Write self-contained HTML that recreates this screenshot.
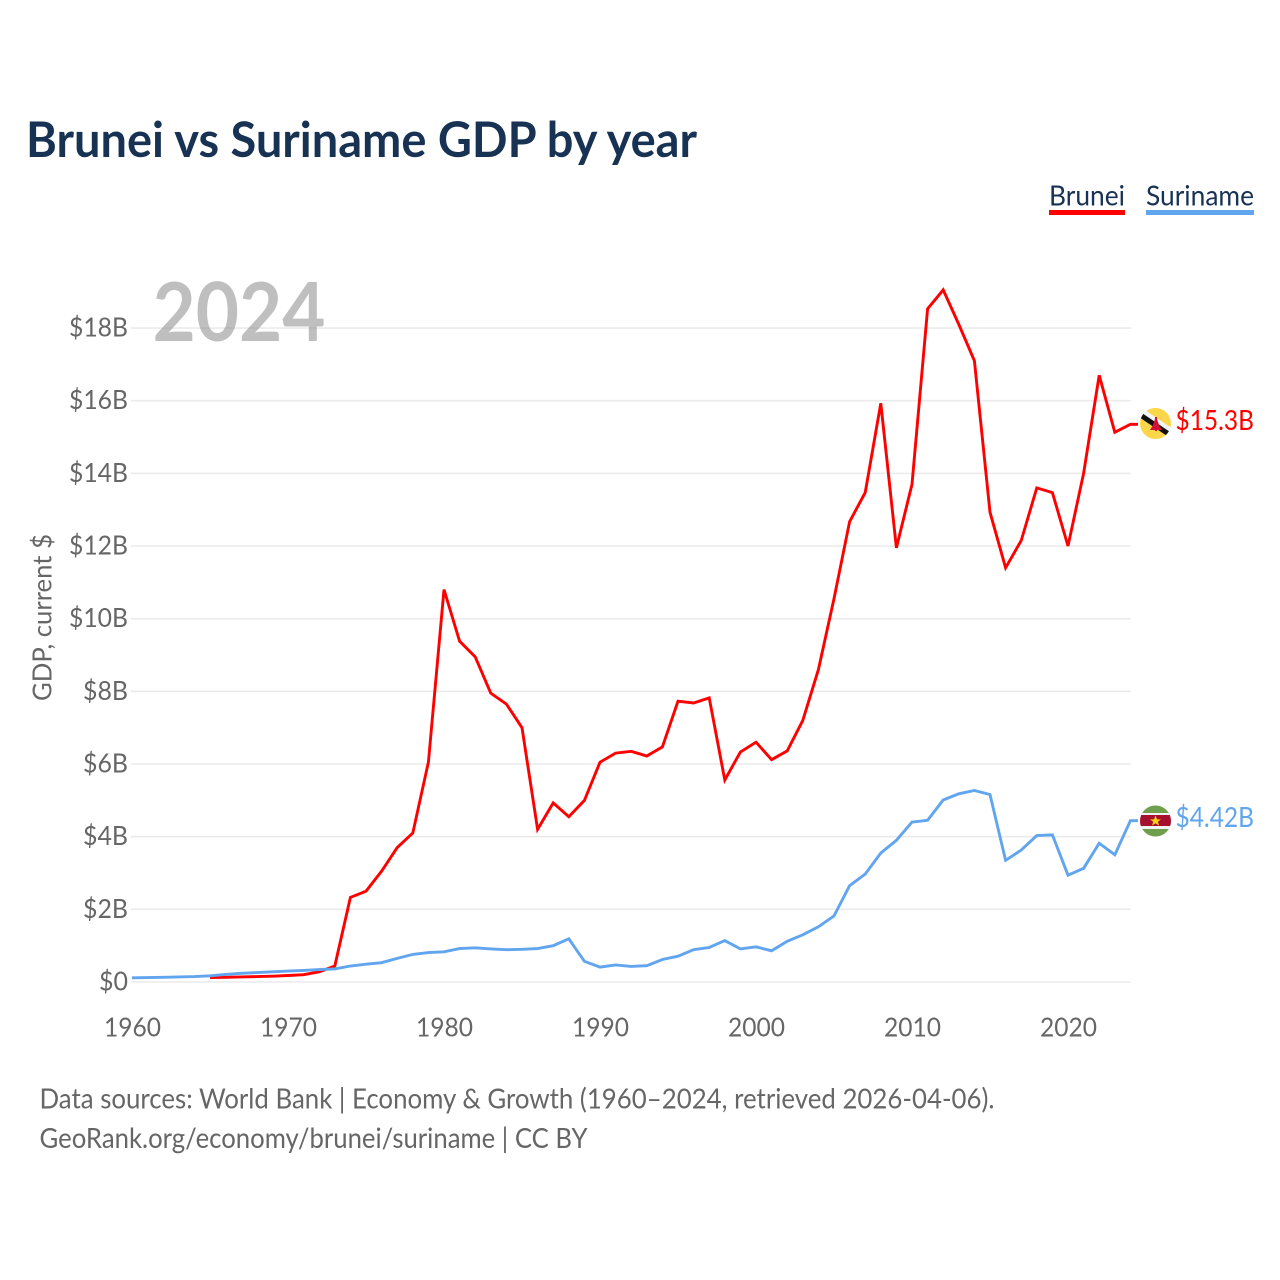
<!DOCTYPE html>
<html lang="en">
<head>
<meta charset="utf-8">
<title>Brunei vs Suriname GDP by year</title>
<style>
html,body{margin:0;padding:0;background:#fff;}
svg{display:block;font-family:"Lato","Carlito","Liberation Sans",sans-serif;}
</style>
</head>
<body>
<svg id="chart" width="1280" height="1280" viewBox="0 0 1280 1280" xmlns="http://www.w3.org/2000/svg">
  <defs>
    <clipPath id="clip-bn"><circle cx="1155.5" cy="423.5" r="15.5"/></clipPath>
    <clipPath id="clip-sr"><circle cx="1155.5" cy="821" r="15.5"/></clipPath>
  </defs>
  <rect width="1280" height="1280" fill="#fff"/>
  <text x="26" y="157" font-size="48.5" font-weight="700" fill="#173253" textLength="671" lengthAdjust="spacingAndGlyphs">Brunei vs Suriname GDP by year</text>

  <g>
    <text x="1049" y="205.5" font-size="28" fill="#173253" textLength="76" lengthAdjust="spacingAndGlyphs">Brunei</text>
    <rect x="1049" y="210" width="76" height="5" fill="#ff0000"/>
    <text x="1146" y="205.5" font-size="28" fill="#173253" textLength="108" lengthAdjust="spacingAndGlyphs">Suriname</text>
    <rect x="1146" y="210" width="108" height="5" fill="#60a5ee"/>
  </g>

  <g id="grid"></g>
  <g id="yticks"></g>
  <g id="xticks"></g>

  <text x="152.5" y="341" font-size="81" font-weight="700" fill="#8a8a8a" fill-opacity="0.55" textLength="173" lengthAdjust="spacingAndGlyphs">2024</text>

  <text transform="translate(51.5,701) rotate(-90)" font-size="26" fill="#666" textLength="167" lengthAdjust="spacingAndGlyphs">GDP, current $</text>

  <g id="series"></g>

  <g clip-path="url(#clip-bn)">
    <rect x="1140" y="408" width="32" height="32" fill="#fcd64a"/>
    <polygon points="1136,414 1142,408 1176,431 1172,438" fill="#f4f4f4"/>
    <polygon points="1136,415 1139,411 1176,436 1173,440" fill="#111"/>
    <path d="M1150 430 L1153 425 L1155 419 L1157 419 L1159 425 L1162 430 Z" fill="#d21034"/>
    <rect x="1155" y="417" width="2" height="14" fill="#d21034"/>
  </g>
  <g clip-path="url(#clip-sr)">
    <rect x="1140" y="805" width="32" height="32" fill="#6f9f4c"/>
    <rect x="1140" y="813" width="32" height="16" fill="#f2f2f2"/>
    <rect x="1140" y="815" width="32" height="11" fill="#a5102e"/>
    <polygon points="1155.5,815.5 1157,819.4 1161,819.4 1157.8,821.8 1159,825.6 1155.5,823.3 1152,825.6 1153.2,821.8 1150,819.4 1154,819.4" fill="#fcd116"/>
  </g>

  <text x="1175.5" y="430" font-size="28" fill="#ff0000" textLength="78.5" lengthAdjust="spacingAndGlyphs">$15.3B</text>
  <text x="1175.5" y="827" font-size="28" fill="#60a5ee" textLength="78.5" lengthAdjust="spacingAndGlyphs">$4.42B</text>

  <text x="39.5" y="1108.5" font-size="28" fill="#666" textLength="955" lengthAdjust="spacingAndGlyphs">Data sources: World Bank | Economy &amp; Growth (1960–2024, retrieved 2026-04-06).</text>
  <text x="39.5" y="1148" font-size="28" fill="#666" textLength="548" lengthAdjust="spacingAndGlyphs">GeoRank.org/economy/brunei/suriname | CC BY</text>
</svg>
<script>
const yTickValues = [0, 2, 4, 6, 8, 10, 12, 14, 16, 18];
const xTickYears = [1960, 1970, 1980, 1990, 2000, 2010, 2020];
const bruneiStartYear = 1965;
const surinameStartYear = 1960;
const bruneiGdp = [0.12,0.13,0.14,0.15,0.16,0.18,0.2,0.28,0.44,2.33,2.5,3.05,3.7,4.1,6.05,10.8,9.38,8.95,7.95,7.65,7.0,4.2,4.93,4.55,5.0,6.05,6.3,6.35,6.22,6.47,7.73,7.68,7.82,5.56,6.33,6.6,6.12,6.36,7.2,8.6,10.55,12.67,13.47,15.93,11.95,13.7,18.53,19.05,18.1,17.1,12.93,11.4,12.15,13.6,13.47,12.0,14.0,16.7,15.13,15.35];
const surinameGdp = [0.115,0.12,0.13,0.14,0.15,0.17,0.21,0.24,0.26,0.28,0.3,0.32,0.34,0.36,0.44,0.49,0.53,0.65,0.76,0.81,0.83,0.92,0.94,0.91,0.89,0.9,0.92,1.0,1.19,0.57,0.41,0.47,0.43,0.45,0.62,0.71,0.89,0.95,1.14,0.91,0.97,0.86,1.12,1.3,1.52,1.82,2.65,2.97,3.55,3.9,4.4,4.45,5.01,5.18,5.27,5.16,3.35,3.63,4.03,4.05,2.94,3.13,3.82,3.5,4.44];

const NS = 'http://www.w3.org/2000/svg';
function xScale(year) { return 132 + (year - 1960) * 15.6; }
function yScale(v) { return 982 - v * 36.33; }
function make(tag, attrs, parent) {
  const el = document.createElementNS(NS, tag);
  for (const k in attrs) el.setAttribute(k, attrs[k]);
  parent.appendChild(el);
  return el;
}
const grid = document.getElementById('grid');
const yticks = document.getElementById('yticks');
const xticks = document.getElementById('xticks');
const series = document.getElementById('series');

yTickValues.forEach(function (v) {
  const line = make('line', {x1: 131, x2: 1131, y1: yScale(v), y2: yScale(v), stroke: '#ebebeb', 'stroke-width': 1.6}, grid);
  
  
  const label = v === 0 ? '$0' : '$' + v + 'B';
  const digits = String(v).length;
  const w = 15 + 14 * digits + (v === 0 ? 0 : 16);
  const t = make('text', {x: 128 - w, y: yScale(v) + 8.5, 'font-size': 26, fill: '#666', textLength: w, lengthAdjust: 'spacingAndGlyphs'}, yticks);
  t.textContent = label;
  
  
});

xTickYears.forEach(function (yr) {
  const t = make('text', {x: xScale(yr) - 28, y: 1036.5, 'font-size': 26, fill: '#666', textLength: 57, lengthAdjust: 'spacingAndGlyphs'}, xticks);
  t.textContent = String(yr);
  
  
});

function linePath(values, startYear) {
  let d = '';
  values.forEach(function (v, i) {
    d += (i ? 'L' : 'M') + xScale(startYear + i).toFixed(1) + ' ' + yScale(v).toFixed(1) + ' ';
  });
  const last = yScale(values[values.length - 1]);
  return d + 'L1138 ' + last.toFixed(1);
}
const bruneiLine = make('path', {d: linePath(bruneiGdp, bruneiStartYear), fill: 'none', stroke: '#ff0000', 'stroke-width': 2.9, 'stroke-linejoin': 'miter'}, series);


const surinameLine = make('path', {d: linePath(surinameGdp, surinameStartYear), fill: 'none', stroke: '#60a5ee', 'stroke-width': 2.9, 'stroke-linejoin': 'miter'}, series);


</script>
</body>
</html>
